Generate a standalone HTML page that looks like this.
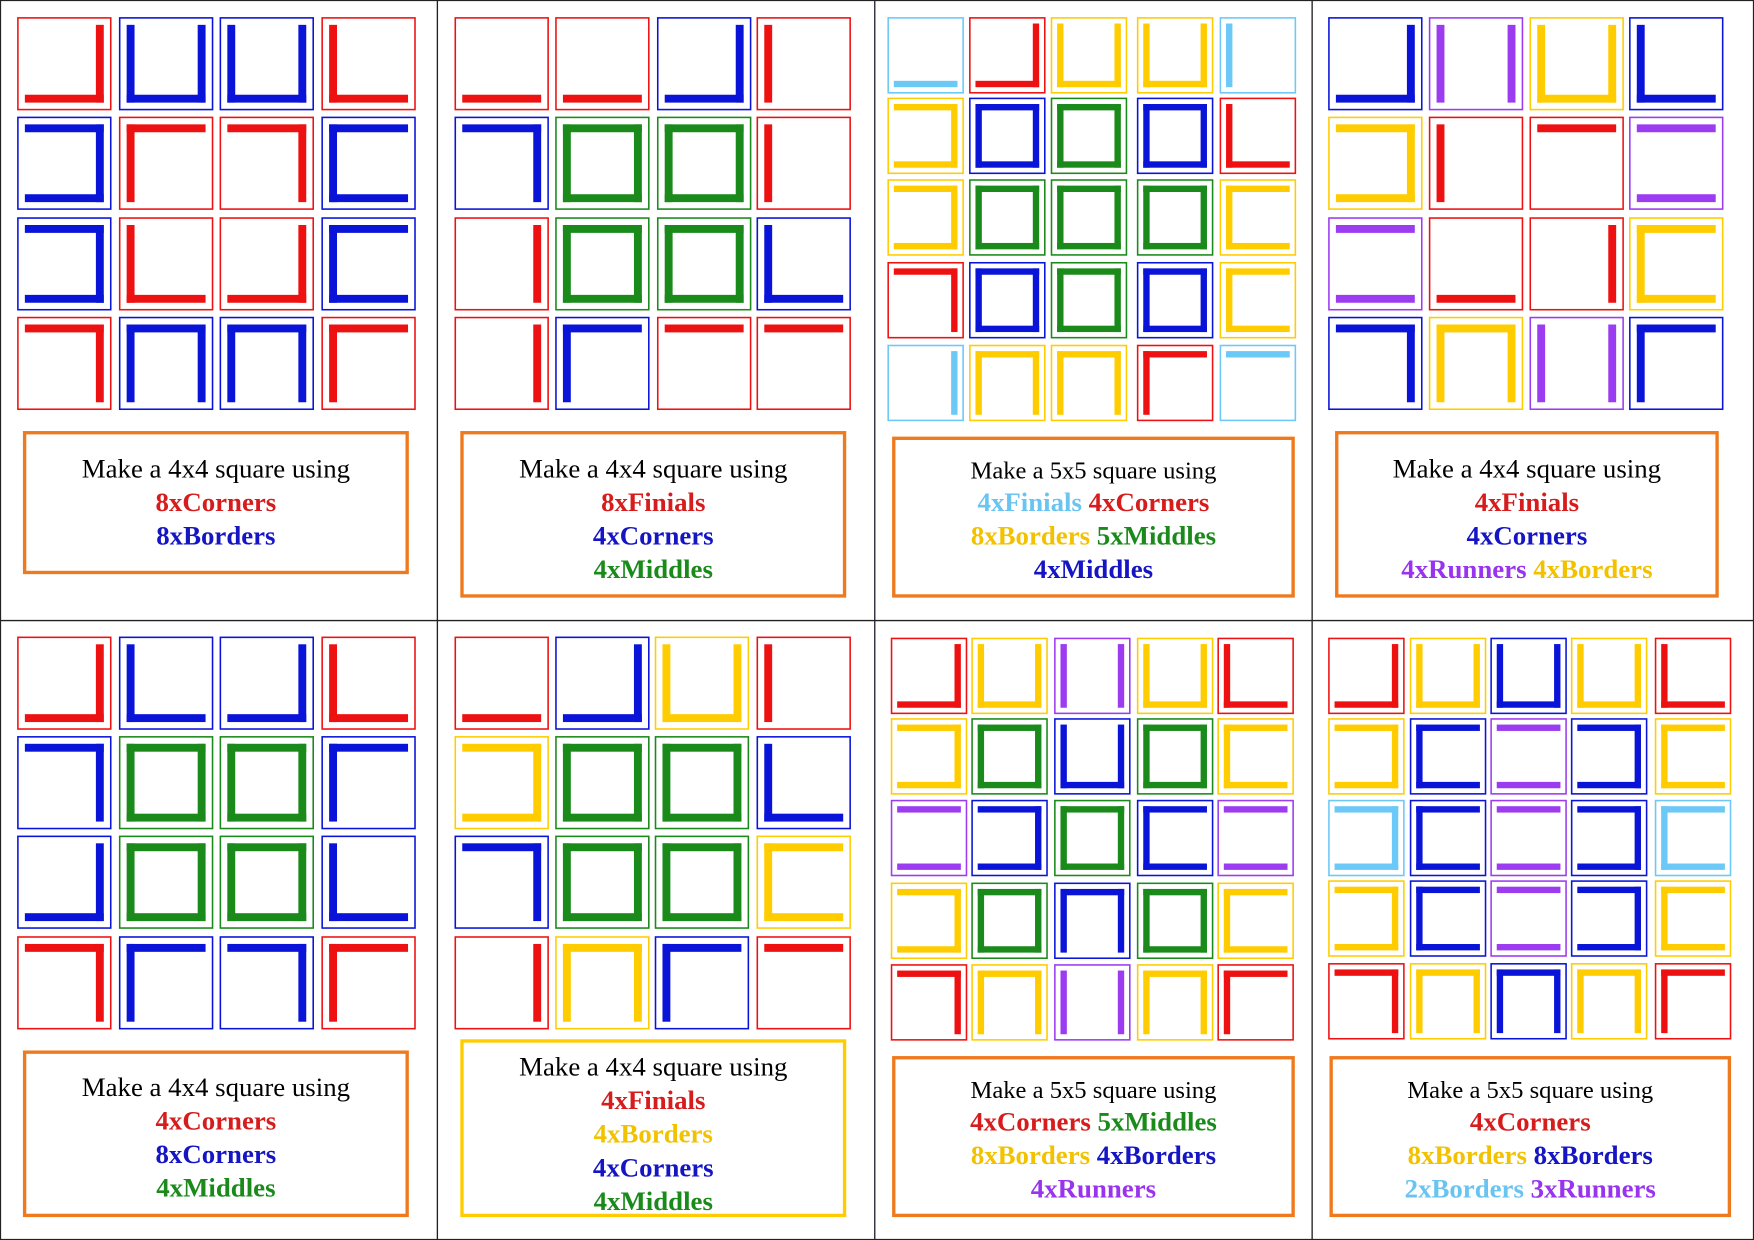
<!DOCTYPE html>
<html><head><meta charset="utf-8">
<style>
html,body{margin:0;padding:0;background:#fff;}
svg{display:block;}
text{font-family:"Liberation Serif",serif;}
</style></head>
<body>
<svg id="s" xmlns="http://www.w3.org/2000/svg" width="1754" height="1240" viewBox="0 0 1568 1109" preserveAspectRatio="none">
<rect x="0.5" y="0.5" width="1567" height="1108" fill="#fff" stroke="#222" stroke-width="1"/>
<line x1="391" y1="0" x2="391" y2="1109" stroke="#222" stroke-width="1.2"/>
<line x1="782" y1="0" x2="782" y2="1109" stroke="#223" stroke-width="1.2"/>
<line x1="1173" y1="0" x2="1173" y2="1109" stroke="#222" stroke-width="1.2"/>
<line x1="0" y1="555" x2="1568" y2="555" stroke="#222" stroke-width="1.2"/>
</svg>
<script>
const COL={r:"#ee1111",b:"#0a14d8",g:"#1a8a1a",y:"#ffcc00",l:"#6cc8f6",p:"#9c3cf0",o:"#ef7a1e"};
const TCOL={r:"#d61c1c",b:"#1515c4",g:"#1a8a1a",y:"#f2c200",l:"#6ac4f0",p:"#9933ee",k:"#000"};
// panel tiles: colour:sides
const tiles1=["r:RB","b:LBR","b:LBR","r:LB","b:TRB","r:TL","r:TR","b:TLB","b:TRB","r:LB","r:RB","b:TLB","r:TR","b:LTR","b:LTR","r:TL"];
const tiles2=["r:B","r:B","b:RB","r:L","b:TR","g:TRBL","g:TRBL","r:L","r:R","g:TRBL","g:TRBL","b:LB","r:R","b:TL","r:T","r:T"];
const tiles3=["l:B","r:RB","y:LBR","y:LBR","l:L","y:TRB","b:TRBL","g:TRBL","b:TRBL","r:LB","y:TRB","g:TRBL","g:TRBL","g:TRBL","y:TLB","r:TR","b:TRBL","g:TRBL","b:TRBL","y:TLB","l:R","y:LTR","y:LTR","r:TL","l:T"];
const tiles4=["b:RB","p:LR","y:LBR","b:LB","y:TRB","r:L","r:T","p:TB","p:TB","r:B","r:R","y:TLB","b:TR","y:LTR","p:LR","b:TL"];
const tiles5=["r:RB","b:LB","b:RB","r:LB","b:TR","g:TRBL","g:TRBL","b:TL","b:RB","g:TRBL","g:TRBL","b:LB","r:TR","b:TL","b:TR","r:TL"];
const tiles6=["r:B","b:RB","y:LBR","r:L","y:TRB","g:TRBL","g:TRBL","b:LB","b:TR","g:TRBL","g:TRBL","y:TLB","r:R","y:LTR","b:TL","r:T"];
const tiles7=["r:RB","y:LBR","p:LR","y:LBR","r:LB","y:TRB","g:TRBL","b:LBR","g:TRBL","y:TLB","p:TB","b:TRB","g:TRBL","b:TLB","p:TB","y:TRB","g:TRBL","b:LTR","g:TRBL","y:TLB","r:TR","y:LTR","p:LR","y:LTR","r:TL"];
const tiles8=["r:RB","y:LBR","b:LBR","y:LBR","r:LB","y:TRB","b:TLB","p:TB","b:TRB","y:TLB","l:TRB","b:TLB","p:TB","b:TRB","l:TLB","y:TRB","b:TLB","p:TB","b:TRB","y:TLB","r:TR","y:LTR","b:LTR","y:LTR","r:TL"];
// instruction text lines: segments "colour|text"
const text1=[["k|Make a 4x4 square using"],["r|8xCorners"],["b|8xBorders"]];
const text2=[["k|Make a 4x4 square using"],["r|8xFinials"],["b|4xCorners"],["g|4xMiddles"]];
const text3=[["k|Make a 5x5 square using"],["l|4xFinials ","r|4xCorners"],["y|8xBorders ","g|5xMiddles"],["b|4xMiddles"]];
const text4=[["k|Make a 4x4 square using"],["r|4xFinials"],["b|4xCorners"],["p|4xRunners ","y|4xBorders"]];
const text5=[["k|Make a 4x4 square using"],["r|4xCorners"],["b|8xCorners"],["g|4xMiddles"]];
const text6=[["k|Make a 4x4 square using"],["r|4xFinials"],["y|4xBorders"],["b|4xCorners"],["g|4xMiddles"]];
const text7=[["k|Make a 5x5 square using"],["r|4xCorners  ","g|5xMiddles"],["y|8xBorders  ","b|4xBorders"],["p|4xRunners"]];
const text8=[["k|Make a 5x5 square using"],["r|4xCorners"],["y|8xBorders  ","b|8xBorders"],["l|2xBorders ","p|3xRunners"]];

const NS="http://www.w3.org/2000/svg";
const svg=document.getElementById("s");
function mk(tag,attrs,parent){const e=document.createElementNS(NS,tag);for(const k in attrs)e.setAttribute(k,attrs[k]);(parent||svg).appendChild(e);return e;}

const panels=[
 {tiles:tiles1,n:4,xs:[16,107,197,288],ys:[16,105,195,284],w:83,h:82,box:[22,387,342,125,"o"],lines:[419,449,479],fs:24,text:text1},
 {tiles:tiles2,n:4,xs:[407,497,588,677],ys:[16,105,195,284],w:83,h:82,box:[413,387,342,146,"o"],lines:[419,449,479,509],fs:24,text:text2},
 {tiles:tiles3,n:5,xs:[794,867,940,1017,1091],ys:[16,88,161,235,309],w:67,h:67,box:[799,392,357,141,"o"],lines:[420,449,479,509],fs:22,text:text3},
 {tiles:tiles4,n:4,xs:[1188,1278,1368,1457],ys:[16,105,195,284],w:83,h:82,box:[1195,387,340,146,"o"],lines:[419,449,479,509],fs:24,text:text4},
 {tiles:tiles5,n:4,xs:[16,107,197,288],ys:[570,659,748,838],w:83,h:82,box:[22,941,342,146,"o"],lines:[972,1002,1032,1062],fs:24,text:text5},
 {tiles:tiles6,n:4,xs:[407,497,586,677],ys:[570,659,748,838],w:83,h:82,box:[413,931,342,156,"y"],lines:[954,984,1014,1044,1074],fs:24,text:text6},
 {tiles:tiles7,n:5,xs:[797,869,943,1017,1089],ys:[571,643,716,790,863],w:67,h:67,box:[799,946,357,141,"o"],lines:[974,1003,1033,1063],fs:22,text:text7},
 {tiles:tiles8,n:5,xs:[1188,1261,1333,1405,1480],ys:[571,643,716,788,862],w:67,h:67,box:[1190,946,356,141,"o"],lines:[974,1003,1033,1063],fs:22,text:text8}
];

panels.forEach((P,pi)=>{
  const g=mk("g",{});
  
  
  P.tiles.forEach((spec,i)=>{
    const [c,sides]=spec.split(":");
    const x=P.xs[i%P.n], y=P.ys[Math.floor(i/P.n)], w=P.w, h=P.h;
    const tg=mk("g",{},g);
    
    
    mk("rect",{x:x,y:y,width:w,height:h,fill:"none",stroke:COL[c],"stroke-width":1.4},tg);
    const d=w*0.075, t=w*0.085;
    const col=COL[c];
    for(const s of sides){
      let r;
      if(s==="T") r={x:x+d,y:y+d,width:w-2*d,height:t};
      if(s==="B") r={x:x+d,y:y+h-d-t,width:w-2*d,height:t};
      if(s==="L") r={x:x+d,y:y+d,width:t,height:h-2*d};
      if(s==="R") r={x:x+w-d-t,y:y+d,width:t,height:h-2*d};
      r.fill=col;
      const b=mk("rect",r,tg);
      
      
    }
  });
  const [bx,by,bw,bh,bc]=P.box;
  const br=mk("rect",{x:bx,y:by,width:bw,height:bh,fill:"none",stroke:COL[bc],"stroke-width":3},g);
  
  
  const cx=bx+bw/2;
  P.text.forEach((segs,li)=>{
    const tx=mk("text",{x:cx,y:P.lines[li]+8,"text-anchor":"middle","font-size":li===0?P.fs:24,"font-weight":li===0?"normal":"bold","xml:space":"preserve"},g);
    
    
    segs.forEach(sg=>{
      const [k,str]=sg.split("|");
      const ts=mk("tspan",{fill:TCOL[k]},tx);
      ts.textContent=str;
    });
  });
});
</script>
</body></html>
